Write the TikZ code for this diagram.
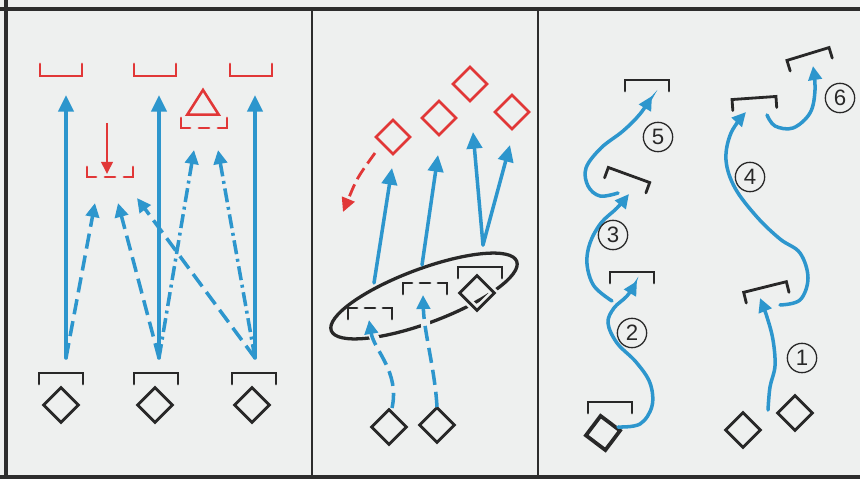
\documentclass[tikz,border=0pt]{standalone}
\usepackage{fontspec}
\newfontfamily\numfont{Liberation Sans}
\usetikzlibrary{arrows.meta, shapes.geometric}

\definecolor{bgcol}{RGB}{238,240,239}
\definecolor{framecol}{RGB}{45,45,45}
\definecolor{ballblue}{RGB}{45,150,205}
\definecolor{markred}{RGB}{225,55,55}
\definecolor{inkcol}{RGB}{40,40,40}

\tikzset{
  player/.style={draw=inkcol, shape=diamond, line width=2.4pt, minimum size=1.08cm, inner sep=0pt, preaction={draw=bgcol, line width=7pt}},
  target/.style={draw=markred, shape=diamond, line width=2.2pt, minimum size=1.05cm, inner sep=0pt},
  run/.style={draw=ballblue, line width=3pt, line cap=round, -{Triangle[length=5mm, width=4.6mm]}},
  runsmall/.style={run, -{Triangle[length=4.2mm, width=4mm]}},
  dashrun/.style={runsmall, line cap=butt, dash pattern=on 13pt off 6pt},
  dotrun/.style={runsmall, line cap=butt, dash pattern=on 12pt off 4pt on 2.5pt off 4pt},
  halo/.style={preaction={draw=bgcol, line width=8pt, solid, -}},
  num/.style={draw=inkcol, circle, line width=1.1pt, minimum size=0.88cm, inner sep=0pt, font=\numfont\fontsize{19}{19}\selectfont, text=inkcol},
  % open-down cone (black) and open-up cone (red)
  cap/.pic={\draw[inkcol, line width=2.4pt, line cap=round] (-22,11) -- (-22,0) -- (22,0) -- (22,11);},
  dashcap/.pic={\draw[inkcol, line width=2.4pt, line cap=round] (-22,11) -- (-22,0) -- (-13,0) (-5,0) -- (5,0) (13,0) -- (22,0) -- (22,11);},
  cup/.pic={\draw[markred, line width=2.4pt, line cap=round] (-21,-12) -- (-21,0) -- (21,0) -- (21,-12);},
  dashcup/.pic={\draw[markred, line width=2.4pt, line cap=round] (-23,-10) -- (-23,0) -- (-14,0) (-5,0) -- (5,0) (14,0) -- (23,0) -- (23,-10);}
}

\begin{document}
\begin{tikzpicture}[x=0.03cm, y=-0.03cm]
\useasboundingbox (0,0) rectangle (860,479);
\fill[bgcol] (0,0) rectangle (860,479);
% frame
\draw[framecol, line width=2.6pt] (6,0) -- (6,479);
\draw[framecol, line width=2.6pt] (0,9) -- (860,9);
\draw[framecol, line width=2.6pt] (0,477) -- (860,477);
\draw[framecol, line width=2.2pt] (312,9) -- (312,479);
\draw[framecol, line width=2.2pt] (538,9) -- (538,479);

% ---------- panel 1 ----------
\pic at (61,76) {cup};
\pic at (155,76) {cup};
\pic at (251,76) {cup};
\pic at (110,177) {dashcup};
\pic at (204,128) {dashcup};
\node[draw=markred, isosceles triangle, isosceles triangle apex angle=65, shape border rotate=90, line width=2.2pt, minimum height=0.74cm, inner sep=0pt] (cone) at (203,106) {};
\coordinate (dropa) at (107,123);
\coordinate (dropb) at (107,174);
\draw[markred, line width=2.2pt, -{Triangle[length=3.6mm, width=3.4mm]}] (dropa) -- (dropb);

\pic at (61,373) {cap};
\pic at (156,373) {cap};
\pic at (254,373) {cap};
\node[player] (pa) at (61,405) {};
\node[player] (pb) at (155,405) {};
\node[player] (pc) at (252,405) {};
\coordinate (sa) at (66,358);
\coordinate (sb) at (159,358);
\coordinate (sc) at (255,358);
\coordinate (ta) at (66,95);
\coordinate (tb) at (159,95);
\coordinate (tc) at (255,95);
\coordinate (ma) at (95,203);
\coordinate (mb) at (118,203);
\coordinate (mc) at (137,198);
\coordinate (na) at (194,150);
\coordinate (nb) at (218,150);

\draw[dashrun] (sa) -- (ma);
\draw[dashrun] (sb) -- (mb);
\draw[dashrun] (sc) -- (mc);
\draw[dotrun] (sb) -- (na);
\draw[dotrun] (sc) -- (nb);
\draw[run] (sa) -- (ta);
\draw[run] (sb) -- (tb);
\draw[run] (sc) -- (tc);

% ---------- panel 2 ----------
\node[draw=inkcol, ellipse, line width=2.8pt, minimum width=5.94cm, minimum height=1.62cm, rotate=20.5] (group) at (424,296) {};
\pic at (370,308) {dashcap};
\pic at (425,283) {dashcap};
\pic at (480,267) {cap};
\node[player] (pd) at (477,293) {};
\node[player] (pe) at (389,427) {};
\node[player] (pf) at (437,425) {};

\node[target] (ra) at (393,137) {};
\node[target] (rb) at (439,118) {};
\node[target] (rc) at (470,84) {};
\node[target] (rd) at (512,112) {};
\coordinate (ua) at (374,283);
\coordinate (ub) at (422,265);
\coordinate (uc) at (483,245);
\coordinate (va) at (392,168);
\coordinate (vb) at (438,155);
\coordinate (vc) at (473,132);
\coordinate (vd) at (510,145);
\draw[run] (ua) -- (va);
\draw[run] (ub) -- (vb);
\draw[run] (uc) -- (vc);
\draw[run] (uc) -- (vd);
\coordinate (wa) at (375,153);
\coordinate (wb) at (343,212);
\draw[markred, line width=2.4pt, dash pattern=on 11pt off 5pt, -{Triangle[length=4.2mm, width=4mm]}] (wa) .. controls (357,178) .. (wb);

\coordinate (xa) at (392,408);
\coordinate (xb) at (369,320);
\coordinate (xc) at (437,407);
\coordinate (xd) at (423,295);
\draw[dashrun, halo] (xa) .. controls (400,372) and (374,350) .. (xb);
\draw[dashrun, halo] (xc) .. controls (435,370) and (424,332) .. (xd);

% ---------- panel 3 ----------
\pic at (610,402) {cap};
\node[player, line width=3.2pt, rotate=8] (pg) at (603,433) {};
\node[player] (ph) at (743,430) {};
\node[player] (pi) at (795,413) {};
\pic at (632,272) {cap};
\pic[rotate=-20] at (629,175) {cap};
\pic at (647,80) {cap};
\pic[rotate=14] at (765,287) {cap};
\pic[rotate=4] at (754,98) {cap};
\pic[rotate=17] at (808,54) {cap};

\draw[runsmall] plot[smooth, tension=0.6] coordinates {(618,427) (640,424) (652,406) (650,383) (636,362) (617,343) (608,323) (614,308) (627,296) (637,281)};
\draw[runsmall] plot[smooth, tension=0.6] coordinates {(612,301) (594,286) (587,264) (590,243) (601,223) (617,208) (629,194)};
\draw[runsmall] plot[smooth, tension=0.6] coordinates {(618,193) (600,196) (588,186) (586,168) (601,148) (623,131) (640,114) (652,96)};
\draw[runsmall] plot[smooth, tension=0.6] coordinates {(768,410) (770,387) (775,366) (773,340) (767,317) (760,298)};
\draw[runsmall] plot[smooth, tension=0.6] coordinates {(780,305) (800,300) (808,278) (800,253) (780,239) (757,217) (735,188) (726,160) (731,133) (746,112)};
\draw[runsmall] plot[smooth, tension=0.6] coordinates {(767,115) (775,126) (793,128) (810,113) (815,90) (813,66)};

\node[num] (n1) at (802,358) {1};
\node[num] (n2) at (632,333) {2};
\node[num] (n3) at (613,235) {3};
\node[num] (n4) at (750,177) {4};
\node[num] (n5) at (658,137) {5};
\node[num] (n6) at (840,98) {6};
\end{tikzpicture}
\end{document}
